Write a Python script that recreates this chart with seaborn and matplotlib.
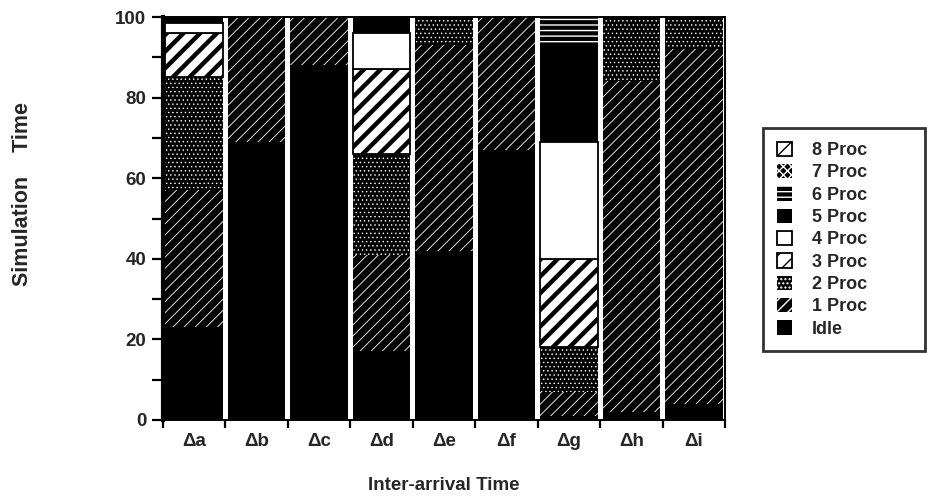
import numpy as np
import pandas as pd
import matplotlib
matplotlib.use("Agg")
import matplotlib.pyplot as plt
import seaborn as sns
from matplotlib.patches import Patch

# Share of simulation time spent with N processors busy, per inter-arrival time
intervals = ["Δa", "Δb", "Δc", "Δd", "Δe", "Δf", "Δg", "Δh", "Δi"]
states = ["Idle", "1 Proc", "2 Proc", "3 Proc", "4 Proc",
          "5 Proc", "6 Proc", "7 Proc", "8 Proc"]

idle   = [23.0, 69.0, 88.0, 17.0, 42.0, 67.0,  1.0,  2.0,  4.0]
proc_1 = [34.0, 31.0, 12.0, 24.0, 51.0, 33.0,  6.0, 82.0, 88.0]
proc_2 = [28.0,  0.0,  0.0, 25.0,  7.0,  0.0, 11.0, 16.0,  8.0]
proc_3 = [11.0,  0.0,  0.0, 21.0,  0.0,  0.0, 22.0,  0.0,  0.0]
proc_4 = [ 2.5,  0.0,  0.0,  9.0,  0.0,  0.0, 29.0,  0.0,  0.0]
proc_5 = [ 1.5,  0.0,  0.0,  4.0,  0.0,  0.0, 24.0,  0.0,  0.0]
proc_6 = [ 0.0,  0.0,  0.0,  0.0,  0.0,  0.0,  7.0,  0.0,  0.0]
proc_7 = [ 0.0,  0.0,  0.0,  0.0,  0.0,  0.0,  0.0,  0.0,  0.0]
proc_8 = [ 0.0,  0.0,  0.0,  0.0,  0.0,  0.0,  0.0,  0.0,  0.0]

layers = [idle, proc_1, proc_2, proc_3, proc_4, proc_5, proc_6, proc_7, proc_8]

# fill colour, hatch, hatch colour, hatch line width
styles = {
    "Idle":   ("black", None,   "black", 1.0),
    "1 Proc": ("black", "///",  "white", 0.6),
    "2 Proc": ("black", "....", "white", 0.5),
    "3 Proc": ("white", "//",   "black", 3.2),
    "4 Proc": ("white", None,   "black", 1.0),
    "5 Proc": ("black", None,   "black", 1.0),
    "6 Proc": ("black", "---",  "white", 1.0),
    "7 Proc": ("black", "xxxx", "white", 0.6),
    "8 Proc": ("white", "/",    "black", 1.0),
}

sns.set_theme(style="white")
plt.rcParams["font.family"] = ["Liberation Sans", "DejaVu Sans"]
plt.rcParams["font.weight"] = "bold"
plt.rcParams["axes.labelweight"] = "bold"
plt.rcParams["hatch.linewidth"] = 1.0

FS = 13.5

fig = plt.figure(figsize=(9.28, 5.01), dpi=100)
ax = fig.add_axes([163 / 928, 81 / 501, (725 - 163) / 928, (420 - 17) / 501])


def style_patch(p, face, hatch, hcolor, hlw):
    p.set_facecolor(face)
    if face == "white":
        p.set_edgecolor("black")
        p.set_linewidth(1.3)
    else:
        p.set_edgecolor(hcolor)
        p.set_linewidth(0)
    if hatch:
        p.set_hatch(hatch)
        if hasattr(p, "set_hatch_linewidth"):
            p.set_hatch_linewidth(hlw)


bottom = np.zeros(len(intervals))
for state, values in zip(states, layers):
    face, hatch, hcolor, hlw = styles[state]
    df = pd.DataFrame({"interval": intervals, "share": values})
    sns.barplot(data=df, x="interval", y="share", order=intervals,
                color=face, saturation=1, width=0.92, errorbar=None,
                bottom=bottom.copy(), ax=ax)
    for p in ax.containers[-1]:
        style_patch(p, face, hatch, hcolor, hlw)
    bottom += np.asarray(values)

ax.set_xlim(-0.5, len(intervals) - 0.5)
ax.set_ylim(0, 100)
ax.set_yticks(np.arange(0, 101, 20))
ax.set_yticks(np.arange(10, 100, 20), minor=True)
ax.set_xticks(np.arange(-0.5, len(intervals), 1), minor=True)

ax.tick_params(axis="y", which="both", direction="out", length=8, width=1.6,
               color="black", labelsize=FS, pad=4, left=True)
ax.tick_params(axis="x", which="major", length=0, labelsize=FS, pad=9)
ax.tick_params(axis="x", which="minor", direction="out", length=6, width=1.6,
               color="black", bottom=True)
for lbl in ax.get_xticklabels() + ax.get_yticklabels():
    lbl.set_fontweight("bold")

for side in ["top", "right", "bottom"]:
    ax.spines[side].set_visible(True)
    ax.spines[side].set_color("black")
    ax.spines[side].set_linewidth(1.4)
ax.spines["left"].set_visible(True)
ax.spines["left"].set_color("black")
ax.spines["left"].set_linewidth(3.0)

ax.set_xlabel("Inter-arrival Time", fontsize=FS, fontweight="bold", labelpad=20)
ax.set_ylabel("Simulation    Time", fontsize=15.5, fontweight="bold")
ax.yaxis.set_label_coords(-0.232, 0.56)
ax.grid(False)

# Legend: top layer first
handles = []
for state in states[::-1]:
    face, hatch, hcolor, hlw = styles[state]
    h = Patch(facecolor=face, edgecolor="black" if face == "white" else hcolor,
              hatch=hatch, linewidth=1.3 if face == "white" else 0)
    if hatch and hasattr(h, "set_hatch_linewidth"):
        h.set_hatch_linewidth(min(hlw, 2.0))
    handles.append(h)

leg = fig.legend(handles, states[::-1], loc="upper left",
                 bbox_to_anchor=(763 / 928, 1 - 128 / 501, 162 / 928, 0.0),
                 mode="expand",
                 frameon=True, fancybox=False, fontsize=13,
                 handlelength=0.85, handleheight=0.85, handletextpad=1.1,
                 labelspacing=0.27, borderpad=0.75, borderaxespad=0)
leg.get_frame().set_edgecolor("black")
leg.get_frame().set_linewidth(2.0)
for t in leg.get_texts():
    t.set_fontweight("bold")

fig.savefig("out.png", dpi=100)
